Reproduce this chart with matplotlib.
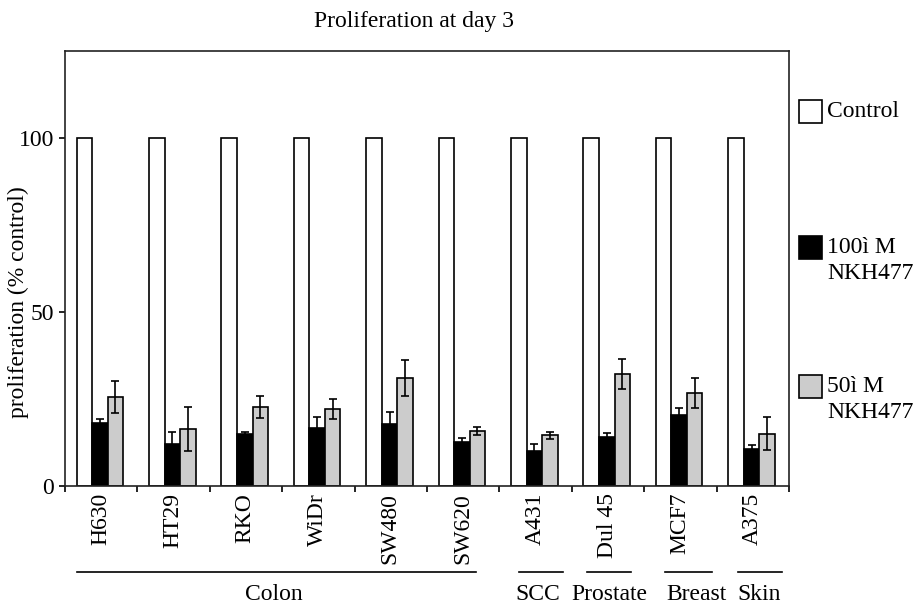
import matplotlib
matplotlib.use("Agg")
import matplotlib.pyplot as plt
from matplotlib.patches import Rectangle
import numpy as np

# ---------------- data ----------------
cell_lines = ["H630", "HT29", "RKO", "WiDr", "SW480", "SW620",
              "A431", "Dul 45", "MCF7", "A375"]
control = [100, 100, 100, 100, 100, 100, 100, 100, 100, 100]
nkh100 = [18.0, 12.1, 14.9, 16.6, 17.7, 12.7, 10.2, 14.0, 20.3, 10.6]
nkh100_err = [1.2, 3.5, 0.6, 3.3, 3.5, 1.1, 2.0, 1.1, 2.1, 1.2]
nkh50 = [25.6, 16.4, 22.7, 22.1, 31.0, 15.8, 14.6, 32.2, 26.8, 15.0]
nkh50_err = [4.7, 6.2, 3.2, 2.8, 5.2, 1.1, 1.0, 4.4, 4.3, 4.7]
series_labels = ["Control", "100ì M\nNKH477", "50ì M\nNKH477"]
group_names = ["Colon", "SCC", "Prostate", "Breast", "Skin"]
group_first = [0, 6, 7, 8, 9]
group_last = [5, 6, 7, 8, 9]
title = "Proliferation at day 3"
ylabel = "proliferation (% control)"
yticks = [0, 50, 100]

# ---------------- style / layout ----------------
FONT = "Liberation Serif"
plt.rcParams["font.family"] = [FONT, "DejaVu Serif"]
W, H = 923, 607
fig = plt.figure(figsize=(W / 100, H / 100), dpi=100)

def fx(px):
    return px / W

def fy(py):
    return 1 - py / H

ax = fig.add_axes([fx(65), fy(486), (789 - 65) / W, (486 - 51) / H])
lw = 1.2
fs = 17

x = np.arange(len(cell_lines))
bw = 0.215
left0 = -0.34
colors = ["white", "black", "#cccccc"]
vals = [control, nkh100, nkh50]
errs = [None, nkh100_err, nkh50_err]
for k in range(3):
    pos = x + left0 + bw * (k + 0.5)
    ax.bar(pos, vals[k], width=bw, color=colors[k], edgecolor="black",
           linewidth=lw, zorder=2)
    if errs[k] is not None:
        ax.errorbar(pos, vals[k], yerr=errs[k], fmt="none", ecolor="black",
                    elinewidth=lw, capsize=3.2, capthick=lw, zorder=3)

ax.set_xlim(-0.5, len(cell_lines) - 0.5)
ax.set_ylim(0, 125)
ax.set_yticks(yticks)
ax.set_yticklabels([str(t) for t in yticks], fontsize=fs)
ax.tick_params(axis="y", direction="out", length=4.3, width=lw, pad=3.5)

ax.set_xticks(np.arange(-0.5, len(cell_lines), 1.0))
ax.set_xticklabels([])
ax.tick_params(axis="x", which="major", direction="out", length=4.3, width=lw)
ax.set_xticks(x - 0.01, minor=True)
ax.set_xticklabels(cell_lines, minor=True, rotation=90, fontsize=fs,
                   va="top", ha="center")
ax.tick_params(axis="x", which="minor", length=0, pad=5)

for sp in ax.spines.values():
    sp.set_linewidth(lw)
    sp.set_color("#222222")

# group brackets
trans = ax.get_xaxis_transform()
line_offsets = {"Colon": (-0.33, 0.18), "SCC": (-0.23, 0.38),
                "Prostate": (-0.29, 0.32), "Breast": (-0.21, 0.44),
                "Skin": (-0.20, 0.40)}
label_px = {"Colon": 274, "SCC": 537.5, "Prostate": 609, "Breast": 696,
            "Skin": 759}
y_line = (486 - 571.5) / 435
y_lab = (486 - 595) / 435
for name, a, b in zip(group_names, group_first, group_last):
    lo, hi = line_offsets[name]
    ax.plot([a + lo, b + hi], [y_line, y_line], color="black", lw=lw,
            transform=trans, clip_on=False)
    xd = (label_px[name] - 65) / 72.4 - 0.5
    ax.text(xd, y_lab, name, transform=trans, ha="center", va="center",
            fontsize=fs)

# title and y label
fig.text(fx(414), fy(22), title, ha="center", va="center", fontsize=fs)
fig.text(fx(18), fy(302), ylabel, rotation=90, ha="center", va="center",
         fontsize=17)

# legend (manual, matching the reference spacing)
box_y = [111.5, 247.5, 386]
bs = 23
for k in range(3):
    rect = Rectangle((fx(799), fy(box_y[k] + bs / 2)), bs / W, bs / H,
                     transform=fig.transFigure, facecolor=colors[k],
                     edgecolor="black", linewidth=lw)
    fig.add_artist(rect)
    lines = series_labels[k].split("\n")
    for j, ln in enumerate(lines):
        fig.text(fx(827), fy(box_y[k] + 26 * j), ln, ha="left", va="center",
                 fontsize=fs)

fig.savefig("out.png", dpi=100)
